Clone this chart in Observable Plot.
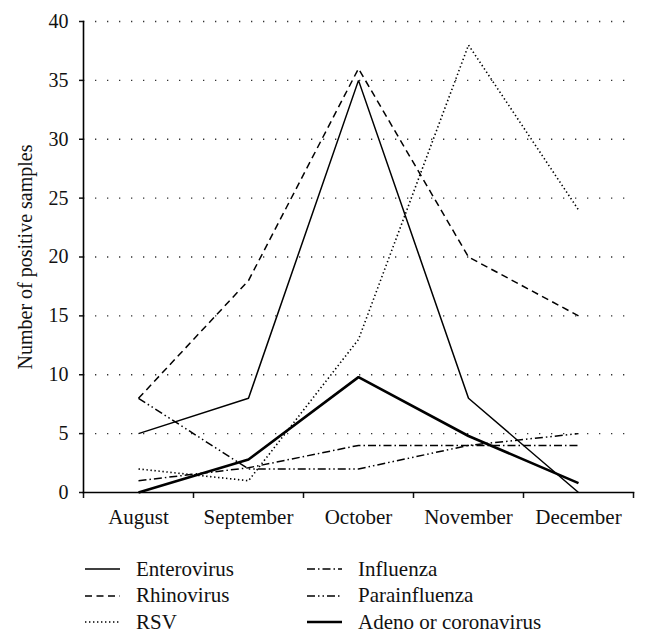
<!DOCTYPE html>
<html>
<head>
<meta charset="utf-8">
<script src="https://cdn.jsdelivr.net/npm/d3@7"></script>
<script src="https://cdn.jsdelivr.net/npm/@observablehq/plot@0.6"></script>
<style>
  body { margin: 0; background: #fff; font-family: "Liberation Serif", "Times New Roman", "DejaVu Serif", serif; }
  #legend { display: grid; grid-template-columns: 222px auto; grid-template-rows: repeat(3, 26.5px);
            grid-auto-flow: column; margin-left: 85px; margin-top: 16px; font-size: 21px; color: #111; }
  #legend .item { display: flex; align-items: center; }
  #legend svg { margin-right: 16px; overflow: visible; }
</style>
</head>
<body>
<div id="chart"></div>
<div id="legend"></div>
<script>
// ---- data ----
const months = ["August", "September", "October", "November", "December"];
const seriesNames = ["Enterovirus", "Rhinovirus", "RSV", "Influenza", "Parainfluenza", "Adeno or coronavirus"];
const enterovirus   = [5, 8, 35, 8, 0];
const rhinovirus    = [8, 18, 36, 20, 15];
const rsv           = [2, 1, 13, 38, 24];
const influenza     = [1, 2.1, 4, 4, 4];
const parainfluenza = [8, 2, 2, 4, 5];
const adeno         = [0, 2.8, 9.8, 4.8, 0.8];
const yTicks = [0, 5, 10, 15, 20, 25, 30, 35, 40];
const yLabel = "Number of positive samples";

// ---- styles (kept separate from data) ----
const FONT = '"Liberation Serif", "Times New Roman", "DejaVu Serif", serif';
const seriesValues = [enterovirus, rhinovirus, rsv, influenza, parainfluenza, adeno];
const styles = {
  "Enterovirus": { width: 1.5, dash: null },
  "Rhinovirus": { width: 1.5, dash: "7,4.5" },
  "RSV": { width: 1.6, dash: "1.4,2.6" },
  "Influenza": { width: 1.5, dash: "8,3,1.5,3" },
  "Parainfluenza": { width: 1.5, dash: "8,3,1.5,3,1.5,3" },
  "Adeno or coronavirus": { width: 2.6, dash: null }
};

const rows = seriesNames.flatMap((name, s) =>
  months.map((m, i) => ({ series: name, i, value: seriesValues[s][i] })));

const boundaries = d3.range(months.length + 1).map(k => k - 0.5);

const lineMarks = seriesNames.map(name => Plot.line(rows.filter(d => d.series === name), {
  x: "i", y: "value", stroke: "#000", strokeWidth: styles[name].width,
  strokeDasharray: styles[name].dash, strokeLinejoin: "miter", strokeLinecap: "butt"
}));

const chart = Plot.plot({
  width: 648,
  height: 540,
  marginLeft: 83,
  marginRight: 15,
  marginTop: 21,
  marginBottom: 48,
  style: { fontFamily: FONT, fontSize: "20px", color: "#111", background: "#fff" },
  x: { type: "linear", domain: [boundaries[0], boundaries[boundaries.length - 1]] },
  y: { domain: [yTicks[0], yTicks[yTicks.length - 1]] },
  marks: [
    Plot.gridY(yTicks.filter(t => t > 0), { stroke: "#333", strokeOpacity: 1, strokeWidth: 1.3, strokeDasharray: "1.3,10.7" }),
    Plot.axisY({ ticks: yTicks, tickSize: 4, tickPadding: 11, fontSize: 20, strokeWidth: 1.5,
      label: yLabel, labelAnchor: "center", labelArrow: "none", labelOffset: 66 }),
    Plot.axisX({ ticks: boundaries, tickSize: 6, strokeWidth: 1.5, tickFormat: () => "", label: null }),
    Plot.axisX({ ticks: months.map((_, i) => i), tickSize: 0, tickPadding: 17, fontSize: 21,
      tickFormat: i => months[i], label: null }),
    Plot.frame({ anchor: "left", stroke: "#000", strokeWidth: 1.6 }),
    Plot.frame({ anchor: "bottom", stroke: "#000", strokeWidth: 1.6 }),
    ...lineMarks
  ]
});
chart.style.fontFamily = FONT;
document.getElementById("chart").appendChild(chart);

// ---- legend ----
const legend = document.getElementById("legend");
seriesNames.forEach(name => {
  const st = styles[name];
  const item = document.createElement("div");
  item.className = "item";
  item.innerHTML = `<svg width="35" height="10"><line x1="0" x2="35" y1="5" y2="5" stroke="#000" stroke-width="${st.width}" ${st.dash ? `stroke-dasharray="${st.dash}"` : ""}/></svg><span>${name}</span>`;
  legend.appendChild(item);
});
</script>
</body>
</html>
